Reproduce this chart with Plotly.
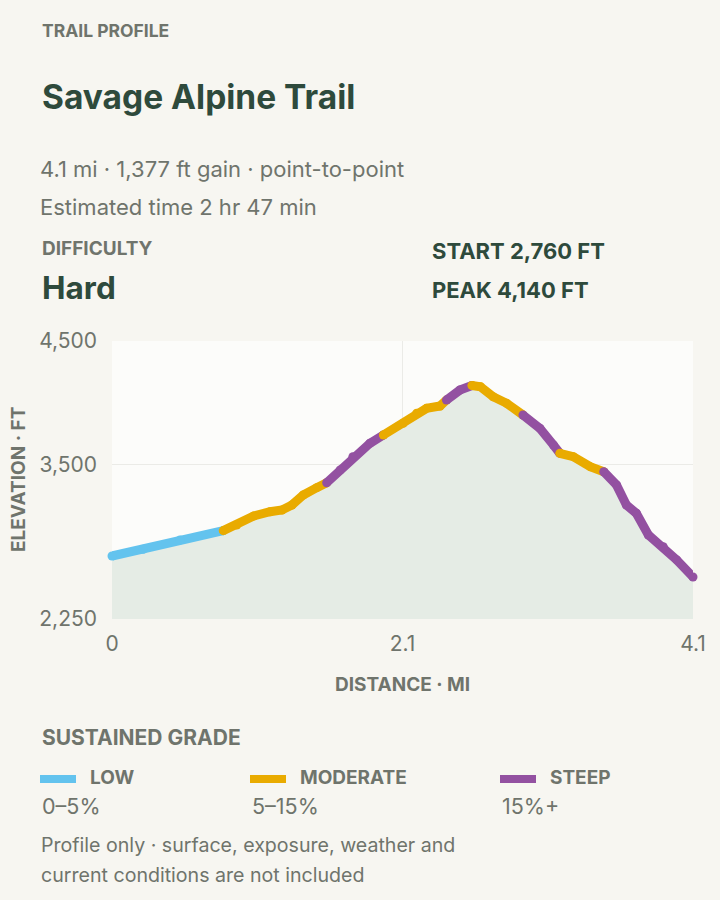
import plotly.graph_objects as go

# trail profile
distance_mi = [0.00, 0.22, 0.48, 0.785, 0.88, 1.00, 1.115, 1.20, 1.27, 1.35,
               1.445, 1.515, 1.61, 1.70, 1.82, 1.915, 2.055, 2.15, 2.22, 2.315,
               2.36, 2.455, 2.54, 2.60, 2.69, 2.785, 2.90, 3.02, 3.115, 3.16,
               3.255, 3.375, 3.47, 3.56, 3.63, 3.70, 3.785, 3.89, 3.985, 4.10]
elevation_ft = [2760, 2814, 2889, 2965, 3011, 3084, 3118, 3132, 3173, 3254,
                3313, 3353, 3456, 3564, 3672, 3739, 3834, 3915, 3955, 3974,
                4022, 4103, 4140, 4130, 4049, 3996, 3901, 3793, 3658, 3591,
                3564, 3483, 3442, 3335, 3173, 3106, 2930, 2835, 2728, 2590]
# grade of the segment that starts at each point
grade = (["low"] * 3 + ["moderate"] * 8 + ["steep"] * 4 + ["moderate"] * 5
         + ["steep"] * 2 + ["moderate"] * 4 + ["steep"] * 3 + ["moderate"] * 3
         + ["steep"] * 8)

# middle tick sits at half the length, shown rounded
x_ticks = [0, 2.05, 4.1]
x_tick_text = ["0", "2.1", "4.1"]
y_ticks = [2250, 3500, 4500]
y_tick_text = ["2,250", "3,500", "4,500"]

grade_names = ["low", "moderate", "steep"]
grade_labels = ["LOW", "MODERATE", "STEEP"]
grade_ranges = ["0–5%", "5–15%", "15%+"]
grade_colors = {"low": "#63c3ee", "moderate": "#e9ab00", "steep": "#9351a1"}

BG = "#f7f6f1"
DARK = "#2e4a3c"
GRAY = "#6f746c"
FONT = "Inter"

W, H = 720, 900
L, R, T, B = 112, 693, 341, 619

fig = go.Figure()

# shaded area under the profile
fig.add_trace(go.Scatter(
    x=distance_mi, y=elevation_ft, mode="lines",
    line=dict(width=0), fill="tozeroy", fillcolor="#e5ece5",
    hoverinfo="skip", showlegend=False,
))

# coloured runs of the same grade
start = 0
for i in range(1, len(distance_mi)):
    if i == len(distance_mi) - 1 or grade[i] != grade[start]:
        g = grade[start]
        fig.add_trace(go.Scatter(
            x=distance_mi[start:i + 1], y=elevation_ft[start:i + 1],
            mode="lines+markers", cliponaxis=False,
            line=dict(color=grade_colors[g], width=9),
            marker=dict(color=grade_colors[g], size=9),
            hovertemplate="%{x:.2f} mi<br>%{y:,} ft<extra></extra>",
            showlegend=False,
        ))
        start = i


def px_x(px):
    return (px - L) / (R - L)


def px_y(py):
    return (B - py) / (B - T)


def note(text, x, y, size, color=GRAY, bold=False, xanchor="left", angle=0):
    fig.add_annotation(
        text=f"<b>{text}</b>" if bold else text,
        x=px_x(x), y=px_y(y), xref="paper", yref="paper",
        xanchor=xanchor, yanchor="middle", showarrow=False, textangle=angle,
        font=dict(family=FONT, size=size, color=color),
    )


note("TRAIL PROFILE", 40, 31, 17.5, GRAY, True)
note("Savage Alpine Trail", 40, 97, 33.5, DARK, True)
note("4.1 mi · 1,377 ft gain · point-to-point", 38, 169, 22)
note("Estimated time 2 hr 47 min", 38, 207, 22)
note("DIFFICULTY", 40, 248, 19, GRAY, True)
note("Hard", 40, 287, 31.5, DARK, True)
note("START 2,760 FT", 430, 251, 22, DARK, True)
note("PEAK 4,140 FT", 430, 290, 22, DARK, True)

note("ELEVATION · FT", 18, 480, 19, GRAY, True, "center", -90)
note("DISTANCE · MI", 402, 684, 19, GRAY, True, "center")

note("SUSTAINED GRADE", 40, 737, 21, GRAY, True)
legend_x = [40, 250, 500]
for k, g in enumerate(grade_names):
    x0 = legend_x[k]
    fig.add_shape(type="rect", xref="paper", yref="paper",
                  x0=px_x(x0), x1=px_x(x0 + 36), y0=px_y(783), y1=px_y(775),
                  fillcolor=grade_colors[g], line=dict(width=0))
    note(grade_labels[k], x0 + 48, 777, 19, GRAY, True)
    note(grade_ranges[k], x0, 806, 21.5)

note("Profile only · surface, exposure, weather and", 39, 845, 19.6)
note("current conditions are not included", 39, 875, 19.6)

fig.update_layout(
    width=W, height=H,
    margin=dict(l=L, r=W - R, t=T, b=H - B, pad=0),
    paper_bgcolor=BG, plot_bgcolor="#fcfcfa",
    font=dict(family=FONT, color=GRAY),
    showlegend=False,
    xaxis=dict(range=[0, 4.1], tickvals=x_ticks, ticktext=x_tick_text,
               showgrid=True, gridcolor="#ebebe7", zeroline=False,
               showline=False, ticks="", ticklabelstandoff=10,
               tickfont=dict(family=FONT, size=21, color=GRAY), fixedrange=True),
    yaxis=dict(range=[2250, 4500], tickvals=y_ticks, ticktext=y_tick_text,
               showgrid=True, gridcolor="#ebebe7", zeroline=False,
               showline=False, ticks="", ticklabelstandoff=14,
               tickfont=dict(family=FONT, size=21, color=GRAY), fixedrange=True),
)

fig.write_html(
    "out.html",
    config={"displayModeBar": False},
    post_script="document.body.style.margin='0';"
                "document.body.style.background='#f7f6f1';",
)
